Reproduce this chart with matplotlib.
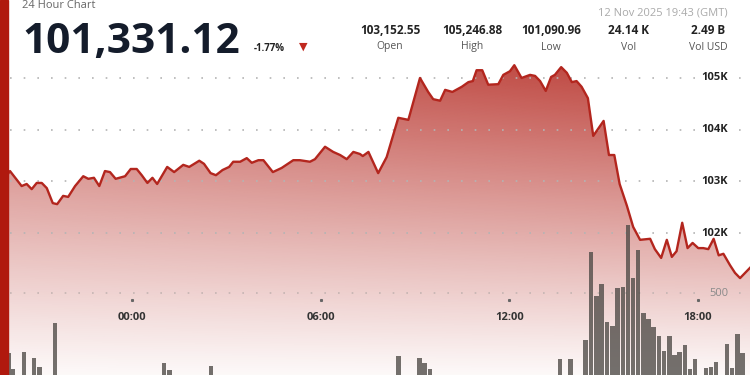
import numpy as np
import matplotlib.pyplot as plt
from matplotlib.patches import Polygon, Rectangle
from matplotlib.colors import to_rgb

plt.rcParams['font.family'] = ['Open Sans', 'DejaVu Sans']

# price, hours after 00:00 on 12 Nov (negative = evening of 11 Nov)
hours = [-3.94, -3.88, -3.51, -3.35, -3.19, -3.03, -2.87, -2.71, -2.52, -2.38,
         -2.19, -2.03, -1.81, -1.55, -1.39, -1.21, -1.04, -0.86, -0.70, -0.52,
         -0.22, -0.04, 0.15, 0.31, 0.49, 0.65, 0.80, 1.12, 1.34, 1.63,
         1.82, 2.14, 2.29, 2.50, 2.67, 2.88, 3.09, 3.22, 3.44, 3.65,
         3.81, 4.02, 4.18, 4.48, 4.76, 5.13, 5.34, 5.66, 5.82, 6.14,
         6.40, 6.62, 6.83, 7.04, 7.25, 7.34, 7.52, 7.83, 8.10, 8.47,
         8.79, 9.16, 9.42, 9.58, 9.80, 9.96, 10.19, 10.49, 10.70, 10.84,
         10.96, 11.14, 11.33, 11.65, 11.81, 12.02, 12.16, 12.39, 12.66, 12.82,
         12.98, 13.16, 13.33, 13.45, 13.65, 13.83, 13.99, 14.14, 14.30, 14.50,
         14.67, 15.00, 15.17, 15.34, 15.51, 15.74, 15.94, 16.16, 16.48, 16.63,
         16.83, 17.01, 17.17, 17.32, 17.50, 17.67, 17.83, 18.01, 18.17, 18.33,
         18.50, 18.66, 18.81, 19.02, 19.18, 19.34, 19.66]
prices = [103150, 103200, 102910, 102950, 102850, 102970, 102970, 102870, 102580, 102560,
          102720, 102700, 102910, 103100, 103050, 103070, 102910, 103200, 103180, 103050,
          103100, 103240, 103240, 103120, 102970, 103070, 102950, 103280, 103180, 103320,
          103280, 103400, 103340, 103160, 103120, 103220, 103280, 103380, 103380, 103450,
          103360, 103410, 103410, 103180, 103260, 103410, 103410, 103380, 103430, 103670,
          103570, 103510, 103430, 103570, 103530, 103490, 103570, 103160, 103470, 104230,
          104190, 105000, 104730, 104590, 104560, 104770, 104730, 104830, 104920, 104940,
          105150, 105150, 104870, 104880, 105060, 105130, 105247, 105000, 105060, 105040,
          104940, 104750, 105020, 105060, 105210, 105100, 104920, 104940, 104830, 104610,
          103880, 104170, 103510, 103510, 102950, 102530, 102120, 101870, 101890, 101690,
          101520, 101870, 101540, 101650, 102200, 101710, 101810, 101710, 101710, 101690,
          101890, 101570, 101600, 101380, 101230, 101130, 101331]

# volume bars (BTC per 10 minutes), only the ones tall enough to show
vol_hours = [-3.93, -3.78, -3.44, -3.12, -2.95, -2.45, 1.02, 1.19, 2.51,
             8.47, 9.14, 9.30, 9.48, 13.61, 13.95, 14.43, 14.60, 14.77, 14.94,
             15.11, 15.28, 15.45, 15.61, 15.77, 15.93, 16.10, 16.26, 16.42, 16.58,
             16.76, 16.92, 17.09, 17.25, 17.41, 17.59, 17.75, 17.91, 18.25, 18.42,
             18.58, 18.92, 19.08, 19.25, 19.41]
volumes = [220, 145, 224, 196, 154, 360, 173, 140, 159,
           206, 195, 171, 145, 190, 190, 280, 693, 487, 541,
           363, 346, 525, 528, 818, 572, 701, 405, 377, 343,
           299, 229, 300, 210, 226, 257, 143, 190, 151, 156,
           179, 260, 151, 307, 221]

price_ticks = [102000, 103000, 104000, 105000]
price_labels = ['102K', '103K', '104K', '105K']
vol_ticks = [500]
time_ticks = [0, 6, 12, 18]
time_labels = ['00:00', '06:00', '12:00', '18:00']

last_price = '101,331.12'
change = '-1.77%'
stat_values = ['103,152.55', '105,246.88', '101,090.96', '24.14 K', '2.49 B']
stat_names = ['Open', 'High', 'Low', 'Vol', 'Vol USD']
stamp = '12 Nov 2025 19:43 (GMT)'

W, H = 750, 375
XLIM = (-4.198, 19.656)
YLIM = (99256, 106508)
VLIM = (117, 1869)
RED = '#b3261e'

fig = plt.figure(figsize=(W / 100, H / 100), dpi=100)
ax = fig.add_axes([0, 0, 1, 1])
vax = ax.twinx()
ax.axis('off')
vax.axis('off')

# gradient fill under the price line
verts = np.column_stack([[hours[0]] + hours + [hours[-1]],
                         [YLIM[0]] + prices + [YLIM[0]]])
poly = Polygon(verts, closed=True, facecolor='none', edgecolor='none')
ax.add_patch(poly)
ty = np.linspace(0, 1, 300)[:, None]
tx = np.linspace(0, 1, 200)[None, :]
alpha = 0.86 * (1 - ty) ** 1.05 * (0.78 + 0.22 * tx) + 0.03
grad = np.zeros((300, 200, 4))
grad[..., :3] = to_rgb(RED)
grad[..., 3] = alpha
im = ax.imshow(grad, extent=[XLIM[0], XLIM[1], YLIM[0], 105280],
               aspect='auto', origin='upper', zorder=1)
im.set_clip_path(poly)

# dotted grid
for p in price_ticks:
    ax.axhline(p, xmin=0.013, xmax=0.935, color='#b4b4b4', lw=1.2,
               ls=(0, (1.0, 7.2)), zorder=2)
    ax.axhline(p, xmin=0.985, xmax=0.995, color='#b4b4b4', lw=1.2,
               ls=(0, (1.0, 7.2)), zorder=2)
for v in vol_ticks:
    vax.axhline(v, xmin=0.013, xmax=0.935, color='#c4b4b2', lw=1.2,
                ls=(0, (1.0, 7.2)), zorder=2)
    vax.axhline(v, xmin=0.985, xmax=0.995, color='#c4b4b2', lw=1.2,
                ls=(0, (1.0, 7.2)), zorder=2)

# volume bars
vax.bar(vol_hours, volumes, width=0.145, bottom=0, color='#4d4945',
        alpha=0.78, zorder=3)

# price line on top of the bars
vax.plot(hours, prices, color=RED, lw=1.7, transform=ax.transData, zorder=4)

ax.set_xlim(*XLIM)
ax.set_ylim(*YLIM)
vax.set_ylim(*VLIM)

# axis labels
ytr = ax.get_yaxis_transform()
for p, lab in zip(price_ticks, price_labels):
    ax.text(0.971, p, lab, transform=ytr, ha='right', va='center',
            fontsize=8, fontweight='bold', color='#222222', zorder=5)
vtr = vax.get_yaxis_transform()
for v in vol_ticks:
    vax.text(0.971, v, str(v), transform=vtr, ha='right', va='center',
             fontsize=8, color='#8a8a8a', zorder=5)
xtr = ax.get_xaxis_transform()
for t, lab in zip(time_ticks, time_labels):
    ax.text(t, 1 - 318 / H, lab, transform=xtr, ha='center', va='center',
            fontsize=8, fontweight='bold', color='#333333', zorder=5)
    ax.plot([t], [1 - 300 / H], marker='s', ms=1.2, color='#666666',
            transform=xtr, zorder=5)

# red edge on the left
fig.patches.append(Rectangle((0, 0), 8 / W, 1, transform=fig.transFigure,
                             color='#b0190e', zorder=10))

# header
def px(x, y):
    return x / W, 1 - y / H

fig.text(*px(22, 8), '24 Hour Chart', fontsize=8, color='#666666', va='baseline')
fig.text(*px(22, 53), last_price, fontsize=30.5, fontweight='bold',
         color='#141c2b', va='baseline')
fig.text(*px(254, 51), change, fontsize=7, fontweight='bold',
         color='#222222', va='baseline')
fig.text(*px(303, 47), '▼', fontsize=8, color='#c0281e', ha='center',
         va='center', family=['DejaVu Sans'])
for cx, val, name in zip([390, 472, 551, 629, 708], stat_values, stat_names):
    fig.text(*px(cx, 31), val, fontsize=8.5, fontweight='bold',
             color='#222222', ha='center', va='center')
    fig.text(*px(cx, 47), name, fontsize=7.5, color='#555555',
             ha='center', va='center')
fig.text(*px(728, 13), stamp, fontsize=8, color='#aaaaaa', ha='right', va='center')

fig.savefig('out.png', dpi=100)
